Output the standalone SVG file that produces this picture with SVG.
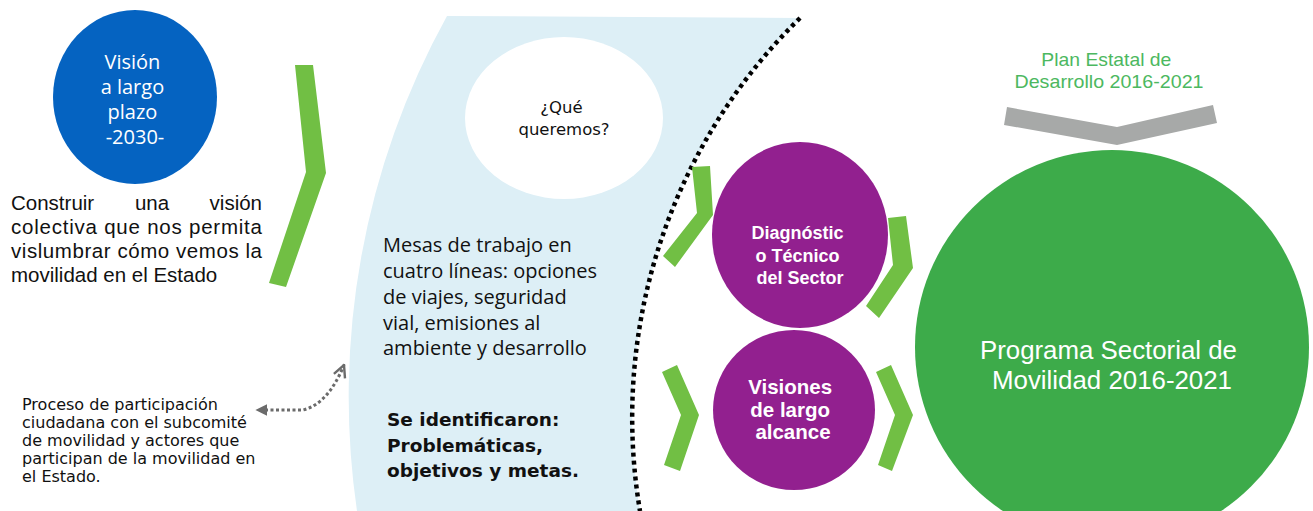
<svg xmlns="http://www.w3.org/2000/svg" width="1313" height="511" viewBox="0 0 1313 511">
<style>
.chev{fill:#71bf44}
.wt{fill:#ffffff}
.os{font-family:"Open Sans","Noto Sans",sans-serif}
.ar{font-family:"Liberation Sans",Arial,sans-serif}
.dv{font-family:"DejaVu Sans",Verdana,sans-serif}
.bd{font-weight:bold}
</style>
<defs>
<marker id="tri" viewBox="0 0 10 10" refX="2" refY="5" markerWidth="4" markerHeight="4" orient="auto-start-reverse" markerUnits="strokeWidth">
<path d="M0 0 L10 5 L0 10 Z" fill="#6b6b6b"/>
</marker>
<marker id="vee" viewBox="0 0 10 10" refX="9" refY="5" markerWidth="5" markerHeight="5" orient="auto" markerUnits="strokeWidth">
<path d="M1 1 L9 5 L1 9" fill="none" stroke="#6b6b6b" stroke-width="1.6"/>
</marker>
<clipPath id="cut"><rect x="0" y="0" width="1313" height="481"/></clipPath>
</defs>

<g id="region">
<path d="M447 16 L800 18 A560 560 0 0 0 640 511 L357 511 A787 787 0 0 1 447 16 Z" fill="#ddeff6"/>
<path d="M800 18 A560 560 0 0 0 640 511" fill="none" stroke="#000" stroke-width="4.5" stroke-dasharray="4 4"/>
</g>

<g id="vision">
<ellipse cx="135" cy="97" rx="82" ry="87" fill="#0563c1"/>
<text class="os wt" font-size="20" text-anchor="middle">
<tspan x="135" y="69">Visión</tspan>
<tspan x="135" y="94">a largo</tspan>
<tspan x="135" y="119">plazo</tspan>
<tspan x="135" y="144">-2030-</tspan>
</text>
</g>

<g id="construir" class="ar" font-size="20.5" fill="#111">
<text x="11" y="210">Construir</text>
<text x="152" y="210" text-anchor="middle">una</text>
<text x="262" y="210" text-anchor="end">visión</text>
<text x="11" y="234" textLength="251" lengthAdjust="spacing">colectiva que nos permita</text>
<text x="11" y="258" textLength="251" lengthAdjust="spacing">vislumbrar cómo vemos la</text>
<text x="11" y="282">movilidad en el Estado</text>
</g>

<g id="chevron1">
<polygon class="chev" points="295,65 313,65 326,173 286,287 269,283 306,172"/>
</g>

<g id="proceso">
<text class="dv" font-size="16" fill="#111">
<tspan x="22" y="410">Proceso de participación</tspan>
<tspan x="22" y="428">ciudadana con el subcomité</tspan>
<tspan x="22" y="446">de movilidad y actores que</tspan>
<tspan x="22" y="464">participan de la movilidad en</tspan>
<tspan x="22" y="482">el Estado.</tspan>
</text>
</g>

<g id="connectors">
<path d="M265 410 L303 410 Q328 404 344 365" fill="none" stroke="#6b6b6b" stroke-width="3" stroke-dasharray="3 2.5" marker-start="url(#tri)" marker-end="url(#vee)"/>
</g>

<g id="que">
<ellipse cx="564" cy="118" rx="99" ry="81" fill="#ffffff"/>
<text class="dv" font-size="16.5" fill="#111" text-anchor="middle">
<tspan x="564" y="113">¿Qué</tspan>
<tspan x="564" y="135">queremos?</tspan>
</text>
</g>

<g id="mesas">
<text class="os" font-size="20" fill="#111">
<tspan x="383" y="252">Mesas de trabajo en</tspan>
<tspan x="383" y="278">cuatro líneas: opciones</tspan>
<tspan x="383" y="304">de viajes, seguridad</tspan>
<tspan x="383" y="330">vial, emisiones al</tspan>
<tspan x="383" y="355">ambiente y desarrollo</tspan>
</text>
</g>

<g id="identificaron" clip-path="url(#cut)">
<text class="dv bd" font-size="18.5" fill="#111">
<tspan x="387" y="426">Se identificaron:</tspan>
<tspan x="387" y="452">Problemáticas,</tspan>
<tspan x="387" y="477">objetivos y metas.</tspan>
</text>
</g>

<g id="chevrons">
<polygon class="chev" points="692,167 710,166 713,215 675,267 663,256 697,213"/>
<polygon class="chev" points="888,218 906,216 913,268 879,318 866,306 893,265"/>
<polygon class="chev" points="662,372 677,365 699,415 680,471 664,465 681,415"/>
<polygon class="chev" points="876,372 891,365 913,415 892,471 878,465 895,415"/>
</g>

<g id="diagnostico">
<ellipse cx="800" cy="235" rx="88" ry="93" fill="#92208f"/>
<text class="ar bd wt" font-size="18" text-anchor="middle">
<tspan x="800" y="239">Diagnóstic</tspan>
<tspan x="800" y="262">o Técnico</tspan>
<tspan x="800" y="284">del Sector</tspan>
</text>
</g>

<g id="visiones">
<ellipse cx="794" cy="410" rx="81" ry="80" fill="#92208f"/>
<text class="ar bd wt" font-size="20.5" text-anchor="middle">
<tspan x="793" y="394">Visiones</tspan>
<tspan x="793" y="417">de largo</tspan>
<tspan x="793" y="439">alcance</tspan>
</text>
</g>

<g id="plan">
<text class="ar" font-size="19" fill="#4cb860" text-anchor="middle">
<tspan x="1109" y="66" textLength="130" lengthAdjust="spacingAndGlyphs">Plan Estatal de</tspan>
<tspan x="1109" y="88" textLength="189" lengthAdjust="spacingAndGlyphs">Desarrollo 2016-2021</tspan>
</text>
<polygon points="1007,107 1117,127 1213,105 1217,123 1117,145 1004,125" fill="#a7a9a8"/>
</g>

<g id="programa">
<circle cx="1112" cy="347" r="197" fill="#3dab4a"/>
<text class="ar wt" font-size="25.5" text-anchor="middle">
<tspan x="1112" y="359" textLength="257" lengthAdjust="spacingAndGlyphs">Programa Sectorial de</tspan>
<tspan x="1112" y="389" textLength="240" lengthAdjust="spacingAndGlyphs">Movilidad 2016-2021</tspan>
</text>
</g>
</svg>
